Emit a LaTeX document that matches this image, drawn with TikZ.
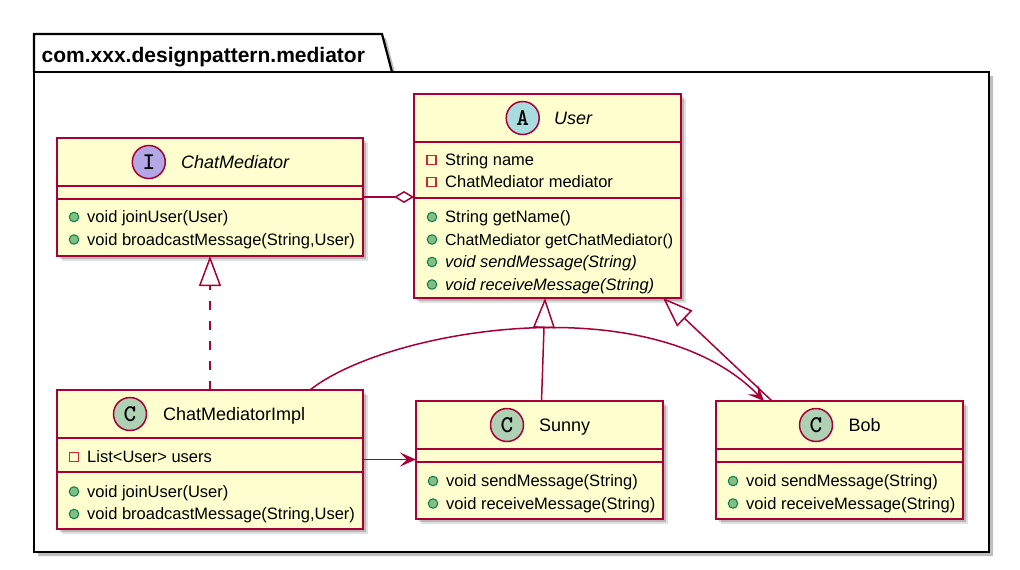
\documentclass[tikz,border=0pt]{standalone}
\usepackage{fontspec}
\setmainfont{Liberation Sans}
\newfontfamily\circfont{lmmonolt10-bold}[Extension=.otf]
\usetikzlibrary{arrows.meta,shadows}
\definecolor{crim}{HTML}{A80036}
\definecolor{clsfill}{HTML}{FEFECE}
\definecolor{privc}{HTML}{C82930}
\definecolor{pubfill}{HTML}{84BE84}
\definecolor{pubdraw}{HTML}{038048}
\definecolor{intc}{HTML}{B4A7E5}
\definecolor{absc}{HTML}{A9DCDF}
\definecolor{clsc}{HTML}{ADD1B2}
\begin{document}
\begin{tikzpicture}[x=1pt,y=-1pt,
  cls/.style={draw=crim, fill=clsfill, line width=2.2pt, inner sep=0pt, outer sep=0pt, anchor=north west,
    drop shadow={shadow xshift=5pt, shadow yshift=-5pt, fill=black, opacity=0.12},
    drop shadow={shadow xshift=3pt, shadow yshift=-3pt, fill=black, opacity=0.18}},
  sepl/.style={draw=crim, line width=2.2pt},
  circ/.style={circle, draw=crim, line width=1.5pt, minimum size=33pt, inner sep=0pt, font=\fontsize{24}{24}\selectfont\circfont},
  mem/.style={font=\fontsize{16.5}{18}\selectfont, anchor=base west, inner sep=0pt},
  memn/.style={mem, font=\fontsize{15.9}{18}\selectfont},
  memi/.style={mem, font=\fontsize{16.5}{18}\selectfont\itshape},
  cname/.style={font=\fontsize{18}{20}\selectfont, anchor=base west, inner sep=0pt},
  cnamei/.style={cname, font=\fontsize{18}{20}\selectfont\itshape},
  privicon/.style={rectangle, draw=privc, line width=1.2pt, minimum size=9pt, inner sep=0pt},
  pubicon/.style={circle, draw=pubdraw, fill=pubfill, line width=1pt, minimum size=9.5pt, inner sep=0pt},
  conn/.style={draw=crim, line width=1.5pt},
  openhead/.style={-{Triangle[open, fill=white, length=30pt, width=22pt]}},
  fillhead/.style={-{Stealth[length=16pt, width=14pt, inset=7pt]}},
  pkg/.style={draw=black, line width=2.2pt, line join=miter}
]
\useasboundingbox (0,0) rectangle (1020,570);
% package
\fill[black, opacity=0.25] (38,38) -- (386,38) -- (396,76) -- (993,76) -- (993,556) -- (38,556) -- cycle;
\fill[white] (34,34) -- (382,34) -- (392,72) -- (989,72) -- (989,552) -- (34,552) -- cycle;
\draw[pkg] (34,72) rectangle (989,552);
\draw[pkg] (34,72) -- (34,34) -- (382,34) -- (392,72);
\node[anchor=base west, inner sep=0pt, font=\fontsize{21}{22}\selectfont\bfseries] (pkgtitle) at (41.5,62) {com.xxx.designpattern.mediator};

% class boxes
\node[cls, minimum width=306pt, minimum height=118pt] (cm) at (57,138) {};
\node[cls, minimum width=267pt, minimum height=204pt] (user) at (414,94) {};
\node[cls, minimum width=306pt, minimum height=139pt] (cmi) at (57,390) {};
\node[cls, minimum width=247pt, minimum height=118pt] (sunny) at (416,401) {};
\node[cls, minimum width=247pt, minimum height=118pt] (bob) at (716,401) {};

% separators
\draw[sepl] (cm.west |- 0,186) -- (cm.east |- 0,186);
\draw[sepl] (cm.west |- 0,199) -- (cm.east |- 0,199);
\draw[sepl] (user.west |- 0,142) -- (user.east |- 0,142);
\draw[sepl] (user.west |- 0,198) -- (user.east |- 0,198);
\draw[sepl] (cmi.west |- 0,438) -- (cmi.east |- 0,438);
\draw[sepl] (cmi.west |- 0,472) -- (cmi.east |- 0,472);
\draw[sepl] (sunny.west |- 0,449) -- (sunny.east |- 0,449);
\draw[sepl] (sunny.west |- 0,462) -- (sunny.east |- 0,462);
\draw[sepl] (bob.west |- 0,449) -- (bob.east |- 0,449);
\draw[sepl] (bob.west |- 0,462) -- (bob.east |- 0,462);

% headers
\node[circ, fill=intc] (cmc) at (148.8,162) {I};
\node[cnamei] (cmn) at (181,168.5) {ChatMediator};
\node[circ, fill=absc] (userc) at (522.7,118) {A};
\node[cnamei] (usern) at (554,124.5) {User};
\node[circ, fill=clsc] (cmic) at (130,414) {C};
\node[cname] (cmin) at (163,420.5) {ChatMediatorImpl};
\node[circ, fill=clsc] (sunnyc) at (507,425) {C};
\node[cname] (sunnyn) at (539,431.5) {Sunny};
\node[circ, fill=clsc] (bobc) at (816,425) {C};
\node[cname] (bobn) at (848.5,431.5) {Bob};

% ChatMediator members
\node[pubicon] (cm1i) at (74,217) {};
\node[mem] (cm1) at (87,222.5) {void joinUser(User)};
\node[pubicon] (cm2i) at (74,239.5) {};
\node[mem] (cm2) at (87,245) {void broadcastMessage(String,User)};

% User members
\node[privicon] (u1i) at (431.5,160) {};
\node[mem] (u1) at (445,165.5) {String name};
\node[privicon] (u2i) at (431.5,182) {};
\node[mem] (u2) at (445,187.5) {ChatMediator mediator};
\node[pubicon] (u3i) at (432,217) {};
\node[mem] (u3) at (445,222.5) {String getName()};
\node[pubicon] (u4i) at (432,239.5) {};
\node[memn] (u4) at (445,245) {ChatMediator getChatMediator()};
\node[pubicon] (u5i) at (432,262) {};
\node[memi] (u5) at (445,267.5) {void sendMessage(String)};
\node[pubicon] (u6i) at (432,284.5) {};
\node[memi] (u6) at (445,290) {void receiveMessage(String)};

% ChatMediatorImpl members
\node[privicon] (ci1i) at (74,457) {};
\node[mem] (ci1) at (87,462.5) {List<User> users};
\node[pubicon] (ci2i) at (74,491.5) {};
\node[mem] (ci2) at (87,497) {void joinUser(User)};
\node[pubicon] (ci3i) at (74,514) {};
\node[mem] (ci3) at (87,519.5) {void broadcastMessage(String,User)};

% Sunny members
\node[pubicon] (s1i) at (433,481) {};
\node[mem] (s1) at (446,486.5) {void sendMessage(String)};
\node[pubicon] (s2i) at (433,503.5) {};
\node[mem] (s2) at (446,509) {void receiveMessage(String)};

% Bob members
\node[pubicon] (b1i) at (733,481) {};
\node[mem] (b1) at (746,486.5) {void sendMessage(String)};
\node[pubicon] (b2i) at (733,503.5) {};
\node[mem] (b2) at (746,509) {void receiveMessage(String)};

% connectors
\draw[conn, -{Diamond[open, fill=white, length=20pt, width=12pt]}] (cm.east) -- (cm.east -| user.west);
\draw[conn, dash pattern=on 9pt off 11pt, openhead] (cmi.north) -- (cm.south);
\draw[conn, openhead] ([xshift=2pt]sunny.north) -- ([xshift=-2.5pt]user.south);
\draw[conn, openhead] ([xshift=56pt]bob.north west) -- ([xshift=-18pt]user.south east);
\draw[conn, fillhead] ([xshift=-53pt]cmi.north east) .. controls (385,330) and (650,284) .. ([xshift=48pt]bob.north west);
\draw[conn, fillhead] (cmi.east) -- (cmi.east -| sunny.west);
\end{tikzpicture}
\end{document}
